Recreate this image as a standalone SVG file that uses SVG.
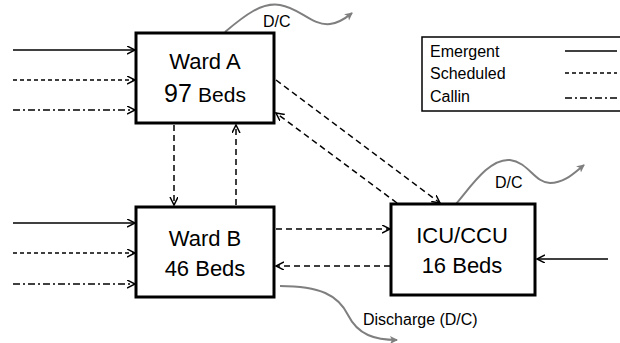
<svg xmlns="http://www.w3.org/2000/svg" width="620" height="343" viewBox="0 0 620 343">
<style>
  .box { fill: #fff; stroke: #000; stroke-width: 3; }
  .lbl { font-family: "Liberation Sans", Arial, sans-serif; fill: #000; }
  .big { font-size: 22px; text-anchor: middle; }
  .small { font-size: 16px; }
  .ln { stroke: #000; stroke-width: 1.5; fill: none; }
  .emer { }
  .sch { stroke-dasharray: 4 3; }
  .sch2 { stroke-dasharray: 6 4; }
  .call { stroke-dasharray: 7 3 2 3; }
  .dc { stroke: #7f7f7f; stroke-width: 2; fill: none; }
</style>
<defs>
  <marker id="ah" markerUnits="userSpaceOnUse" markerWidth="10" markerHeight="10" refX="8" refY="4" orient="auto">
    <path d="M0,0 L8,4 L0,8" fill="none" stroke="#000" stroke-width="1.5"/>
  </marker>
  <marker id="gh" markerUnits="userSpaceOnUse" markerWidth="10" markerHeight="10" refX="7" refY="4" orient="auto">
    <path d="M0,0 L8,4 L0,8 L2,4 Z" fill="#7f7f7f"/>
  </marker>
</defs>

<g id="connectors">
  <!-- inputs Ward A -->
  <line class="ln emer" x1="13" y1="50" x2="135" y2="50" marker-end="url(#ah)"/>
  <line class="ln sch" x1="13" y1="80" x2="135" y2="80" marker-end="url(#ah)"/>
  <line class="ln call" x1="13" y1="110" x2="135" y2="110" marker-end="url(#ah)"/>
  <!-- inputs Ward B -->
  <line class="ln emer" x1="13" y1="223" x2="135" y2="223" marker-end="url(#ah)"/>
  <line class="ln sch" x1="13" y1="253" x2="135" y2="253" marker-end="url(#ah)"/>
  <line class="ln call" x1="13" y1="284" x2="135" y2="284" marker-end="url(#ah)"/>
  <!-- Ward A <-> Ward B -->
  <line class="ln sch2" x1="174" y1="125" x2="174" y2="205" marker-end="url(#ah)"/>
  <line class="ln sch2" x1="236" y1="205" x2="236" y2="125" marker-end="url(#ah)"/>
  <!-- Ward A <-> ICU -->
  <line class="ln sch2" x1="276" y1="80" x2="440" y2="203" marker-end="url(#ah)"/>
  <line class="ln sch2" x1="397" y1="203" x2="276" y2="113" marker-end="url(#ah)"/>
  <!-- Ward B <-> ICU -->
  <line class="ln sch2" x1="276" y1="229" x2="390" y2="229" marker-end="url(#ah)"/>
  <line class="ln sch2" x1="390" y1="266" x2="276" y2="266" marker-end="url(#ah)"/>
  <!-- ICU input -->
  <line class="ln emer" x1="608" y1="259" x2="537" y2="259" marker-end="url(#ah)"/>
  <!-- discharges -->
  <path class="dc" d="M225,32 C245,15 262,2 280,5 C300,8 312,26 330,24 C340,23 347,17 352,13" marker-end="url(#gh)"/>
  <path class="dc" d="M456,204 C472,185 490,158 510,160 C528,162 535,183 550,183 C565,183 575,172 584,165" marker-end="url(#gh)"/>
  <path class="dc" d="M280,286 C320,286 338,295 348,315 C358,335 375,340 397,340" marker-end="url(#gh)"/>
  <text class="lbl small" x="263" y="27">D/C</text>
  <text class="lbl small" x="495" y="188">D/C</text>
  <text class="lbl small" x="363" y="325">Discharge (D/C)</text>
</g>

<g id="wardA">
  <rect class="box" x="136" y="33" width="138" height="90"/>
  <text class="lbl big" x="205" y="69">Ward A</text>
  <text class="lbl big" x="205" y="102"><tspan font-size="25">97</tspan> <tspan font-size="21">Beds</tspan></text>
</g>

<g id="wardB">
  <rect class="box" x="136" y="207" width="138" height="90"/>
  <text class="lbl big" x="205" y="246">Ward B</text>
  <text class="lbl big" x="205" y="276">46 Beds</text>
</g>

<g id="icu">
  <rect class="box" x="391" y="204" width="144" height="91"/>
  <text class="lbl big" x="462" y="243">ICU/CCU</text>
  <text class="lbl big" x="462" y="273">16 Beds</text>
</g>

<g id="legend">
  <rect x="422" y="37" width="210" height="74" fill="#fff" stroke="#000" stroke-width="1.5"/>
  <text class="lbl small" x="430" y="57">Emergent</text>
  <text class="lbl small" x="430" y="79">Scheduled</text>
  <text class="lbl small" x="430" y="102">Callin</text>
  <line class="ln emer" x1="565" y1="51" x2="617" y2="51"/>
  <line class="ln sch" x1="565" y1="73" x2="617" y2="73"/>
  <line class="ln call" x1="565" y1="98" x2="617" y2="98"/>
</g>
</svg>
